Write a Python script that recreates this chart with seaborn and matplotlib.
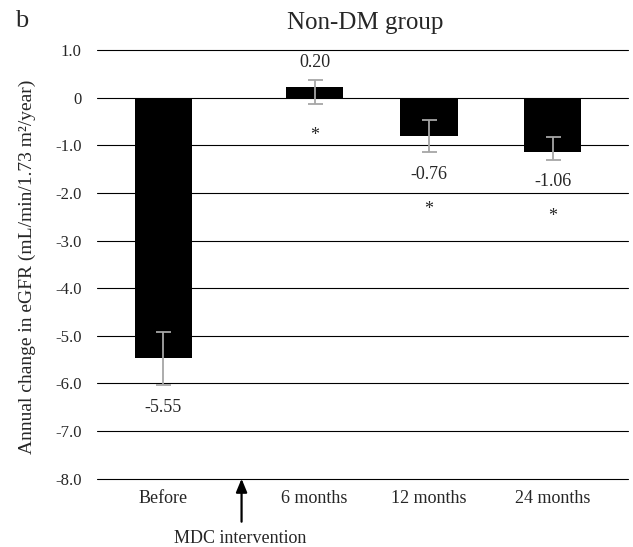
import numpy as np
import pandas as pd
import matplotlib
matplotlib.use("Agg")
import matplotlib.pyplot as plt
from matplotlib.patches import ArrowStyle
import seaborn as sns

# ---- data ----
categories = ["Before", "6 months", "12 months", "24 months"]
bar_values = [-5.46, 0.22, -0.81, -1.15]
err_upper = [-4.93, 0.38, -0.46, -0.82]
err_lower = [-6.04, -0.13, -1.15, -1.30]
value_labels = ["-5.55", "0.20", "-0.76", "-1.06"]
significance = ["", "*", "*", "*"]
y_ticks = [1.0, 0.0, -1.0, -2.0, -3.0, -4.0, -5.0, -6.0, -7.0, -8.0]

# ---- layout (positions on the native x scale) ----
x_positions = [0.0, 1.14, 2.0, 2.93]
arrow_x = 0.59

sns.set_style("white")
plt.rcParams["font.family"] = ["Liberation Serif", "DejaVu Serif"]
plt.rcParams["axes.unicode_minus"] = False

W, H = 633, 547
fig = plt.figure(figsize=(W / 100, H / 100), dpi=100)
ax = fig.add_axes([96.7 / W, 1 - 478.7 / H, (628.3 - 96.7) / W, (478.7 - 50) / H])

df = pd.DataFrame({"pos": x_positions, "value": bar_values, "cat": categories})
sns.barplot(data=df, x="pos", y="value", native_scale=True, width=0.5,
            color="black", saturation=1, errorbar=None, linewidth=0,
            ax=ax, zorder=2)

vals = np.array(bar_values)
yerr = [vals - np.array(err_lower), np.array(err_upper) - vals]
ax.errorbar(x_positions, vals, yerr=yerr, fmt="none", ecolor="#A6A6A6",
            elinewidth=1.3, capsize=5.4, capthick=1.3, zorder=3)

ax.set_xlim(-0.5, 3.5)
ax.set_ylim(-8.0, 1.0)
ax.set_yticks(y_ticks)
ax.set_yticklabels(["0" if v == 0 else f"{v:.1f}" for v in y_ticks])
ax.set_xticks(x_positions)
ax.set_xticklabels(categories)
ax.tick_params(axis="y", length=0, pad=11, labelsize=12)
ax.tick_params(axis="x", length=0, pad=8, labelsize=13)
ax.set_xlabel("")
ax.set_ylabel("Annual change in eGFR (mL/min/1.73 m²/year)", fontsize=14)
ax.yaxis.set_label_coords(-0.114, 0.495)
for s in ax.spines.values():
    s.set_visible(False)
ax.grid(axis="y", color="black", lw=0.8, zorder=0)
ax.grid(axis="x", visible=False)
for gl in ax.get_ygridlines():
    gl.set_clip_on(False)
ax.set_axisbelow(True)

# value labels and significance marks
for x, v, lo, hi, lab, sig in zip(x_positions, bar_values, err_lower, err_upper,
                                  value_labels, significance):
    if v >= 0:
        ax.annotate(lab, (x, hi), xytext=(0, 17), textcoords="offset pixels",
                    ha="center", va="center", fontsize=13)
        if sig:
            ax.annotate(sig, (x, lo), xytext=(0, -32), textcoords="offset pixels",
                        ha="center", va="center", fontsize=13)
    else:
        ax.annotate(lab, (x, lo), xytext=(0, -22), textcoords="offset pixels",
                    ha="center", va="center", fontsize=13)
        if sig:
            ax.annotate(sig, (x, lo), xytext=(0, -57), textcoords="offset pixels",
                        ha="center", va="center", fontsize=13)

# intervention arrow
ax.annotate("", xy=(arrow_x, -8.0), xytext=(0, -43), textcoords="offset pixels",
            arrowprops=dict(arrowstyle=ArrowStyle("-|>", head_length=0.8, head_width=0.33),
                            mutation_scale=10, color="black", lw=1.6,
                            shrinkA=0, shrinkB=0),
            annotation_clip=False)
fig.text(240 / W, 1 - 543 / H, "MDC intervention", ha="center", va="baseline",
         fontsize=13)

fig.text(365 / W, 1 - 29 / H, "Non-DM group", ha="center", va="baseline", fontsize=18)
fig.text(15 / W, 1 - 27 / H, "b", ha="left", va="baseline", fontsize=19)

fig.savefig("out.png", dpi=100)
